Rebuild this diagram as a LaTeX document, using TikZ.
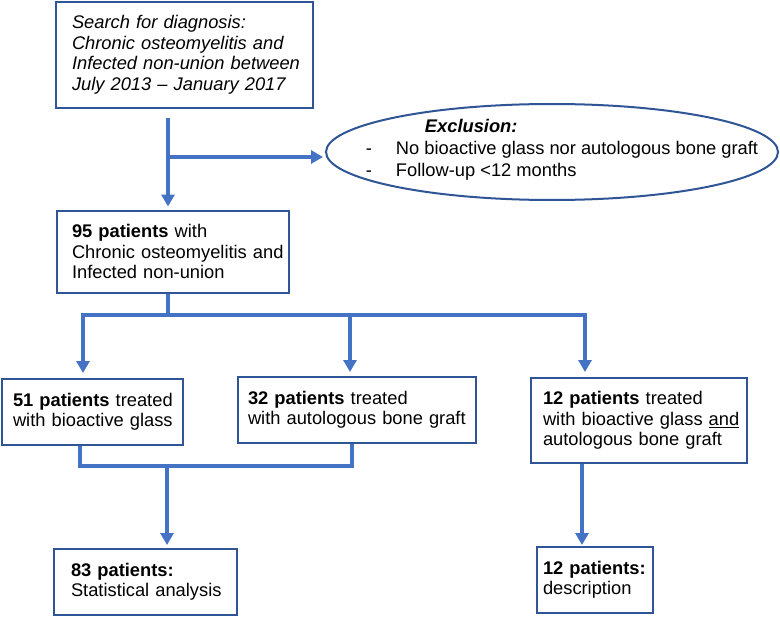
\documentclass[tikz,border=0pt]{standalone}
\usepackage{fontspec}
\setmainfont{Liberation Sans}
\usetikzlibrary{arrows.meta,shapes.geometric}
\definecolor{boxblue}{HTML}{2F5597}
\definecolor{arrblue}{HTML}{4472C4}
\newcommand\Ln[1]{\mbox{#1}}
\begin{document}
\begin{tikzpicture}[x=1pt,y=-1pt,
  every node/.style={font=\fontsize{18.3}{20.5}\selectfont},
  box/.style={draw=boxblue,line width=2pt,rectangle,align=left,inner ysep=0pt},
  conn/.style={draw=arrblue,line width=4pt,line join=miter},
  arr/.style={conn,-{Triangle[width=13pt,length=12pt]}},
  arrb/.style={conn,{Triangle[width=13pt,length=12pt]}-{Triangle[width=13pt,length=12pt]}}]
\useasboundingbox (0,0) rectangle (780,618);
% boxes
\node[box,minimum width=257pt,minimum height=106pt,inner xsep=16pt,text width=225pt] (box1) at (184.5,55)
  {\itshape\Ln{Search for diagnosis:}\\\Ln{Chronic osteomyelitis and}\\\Ln{Infected non-union between}\\\Ln{July 2013 -- January 2017}};
\node[ellipse,draw=boxblue,line width=2pt,minimum width=452pt,minimum height=96pt,inner sep=0pt] (excl) at (552,152)
  {\makebox[0pt]{\hspace*{20pt}\raisebox{-2.5pt}[0pt][0pt]{\renewcommand\arraystretch{1.05}\begin{tabular}{@{}l@{\hspace{24pt}}l@{}}
   & \hspace*{29pt}\textbf{\textit{Exclusion:}}\\
  - & No bioactive glass nor autologous bone graft\\
  - & Follow-up <12 months
  \end{tabular}}}};
\node[box,minimum width=232pt,minimum height=82pt,inner xsep=15pt,text width=202pt] (box2) at (173,251.5)
  {\Ln{\textbf{95 patients} with}\\\Ln{Chronic osteomyelitis and}\\\Ln{Infected non-union}};
\node[box,minimum width=181pt,minimum height=66pt,inner xsep=11pt,text width=159pt] (box51) at (92.5,412)
  {\Ln{\textbf{51 patients} treated}\\\Ln{with bioactive glass}};
\node[box,minimum width=238pt,minimum height=66pt,inner xsep=10pt,text width=218pt] (box32) at (357,410)
  {\Ln{\textbf{32 patients} treated}\\\Ln{with autologous bone graft}};
\node[box,minimum width=216pt,minimum height=85pt,inner xsep=12pt,text width=192pt] (box12t) at (639,420.5)
  {\Ln{\textbf{12 patients} treated}\\\Ln{with bioactive glass \underline{and}}\\\Ln{autologous bone graft}};
\node[box,minimum width=183pt,minimum height=66pt,inner xsep=17pt,text width=149pt] (box83) at (145.5,582)
  {\Ln{\textbf{83 patients:}}\\\Ln{Statistical analysis}};
\node[box,minimum width=116pt,minimum height=66pt,inner xsep=6pt,text width=104pt] (box12d) at (595,580)
  {\Ln{\textbf{12 patients:}}\\\Ln{description}};
% junction coordinates
\coordinate (c1) at (168,157);
\coordinate (jl) at (83,315);
\coordinate (jm) at (350,315);
\coordinate (jr) at (585,315);
\coordinate (m1) at (80,466);
\coordinate (m2) at (352,466);
\coordinate (mm) at (167,466);
\coordinate (cr) at (582,500);
% connectors
\draw[arr,shorten <=9pt,shorten >=3pt] (box1.south -| c1) -- (box2.north -| c1);
\draw[arr,shorten >=2pt] (c1) -- (c1 -| excl.west);
\draw[conn] (box2.south -| c1) -- (c1 |- jl);
\draw[arrb,shorten <=5pt,shorten >=5pt] (box51.north -| jl) -- (jl) -- (jr) -- (box12t.north -| jr);
\draw[arr,shorten >=4pt] (jm) -- (box32.north -| jm);
\draw[conn] (box51.south -| m1) -- (m1) -- (m2) -- (box32.south -| m2);
\draw[arr,shorten >=3pt] (mm) -- (box83.north -| mm);
\draw[arr,shorten >=1pt] (box12t.south -| cr) -- (box12d.north -| cr);
\end{tikzpicture}
\end{document}
